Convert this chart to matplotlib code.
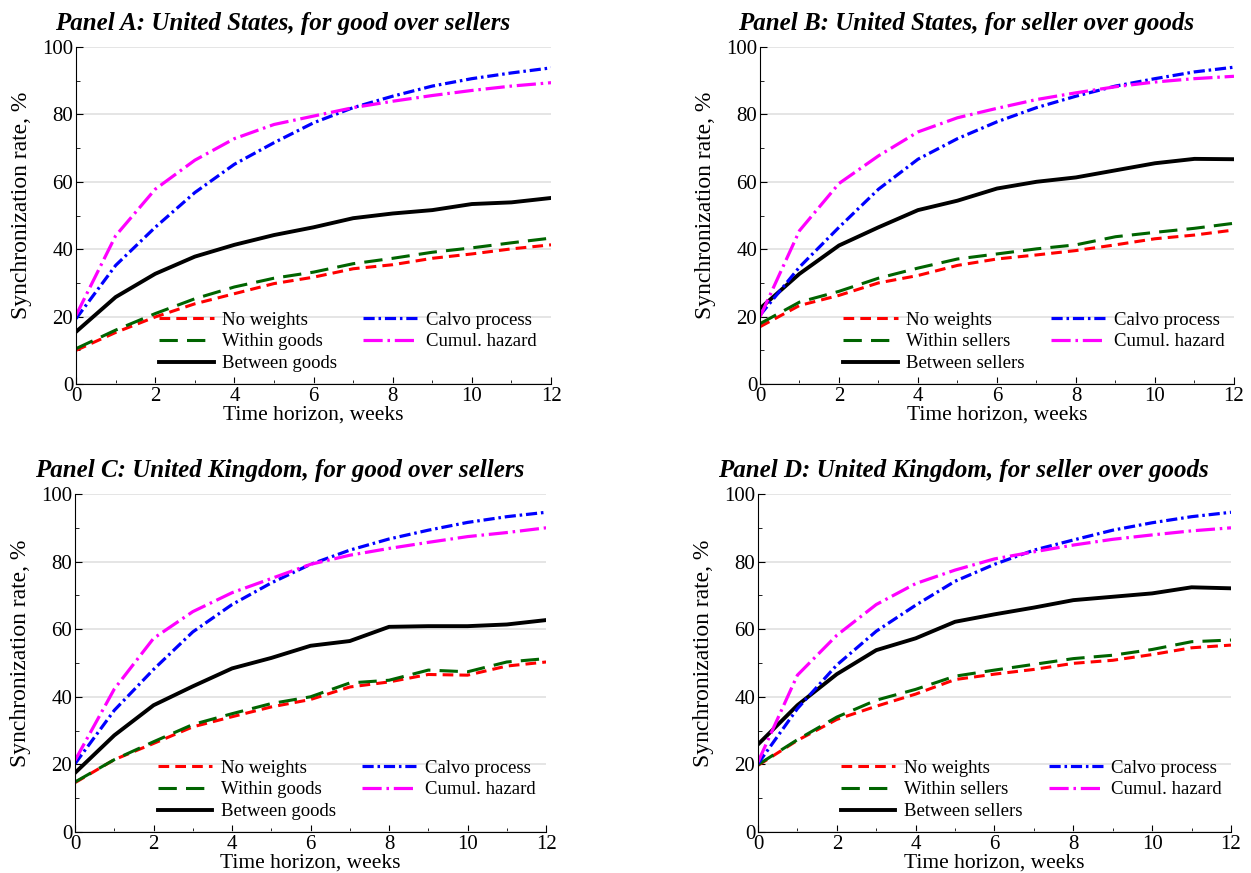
import numpy as np
import matplotlib.pyplot as plt
from matplotlib.ticker import MultipleLocator

plt.rcParams['font.family'] = ['Liberation Serif', 'DejaVu Serif']

weeks = np.arange(13)

# Panel A: US, good over sellers
a_noweight = [10.0, 15.3, 19.9, 23.8, 26.8, 29.8, 31.7, 34.2, 35.4, 37.3, 38.6, 40.1, 41.3]
a_within = [10.5, 16.0, 20.9, 25.3, 28.8, 31.4, 33.2, 35.7, 37.3, 39.1, 40.4, 41.9, 43.3]
a_between = [15.5, 25.8, 32.7, 37.8, 41.3, 44.2, 46.5, 49.2, 50.6, 51.6, 53.4, 53.9, 55.2]
a_calvo = [19.4, 35.2, 46.5, 56.8, 65.2, 71.6, 77.5, 82.0, 85.4, 88.4, 90.6, 92.3, 93.8]
a_hazard = [20.4, 44.0, 57.8, 66.4, 72.8, 77.0, 79.5, 82.0, 83.9, 85.6, 87.1, 88.4, 89.4]

# Panel B: US, seller over goods
b_noweight = [17.0, 23.3, 26.3, 30.0, 32.2, 35.2, 37.1, 38.3, 39.6, 41.3, 43.1, 44.2, 45.7]
b_within = [17.9, 24.3, 27.5, 31.4, 34.4, 37.1, 38.6, 40.1, 41.3, 43.7, 45.0, 46.2, 47.7]
b_between = [22.4, 32.7, 41.1, 46.5, 51.6, 54.4, 58.0, 60.0, 61.3, 63.4, 65.5, 66.8, 66.7]
b_calvo = [20.4, 34.7, 46.5, 57.8, 66.7, 72.8, 77.8, 82.0, 85.4, 88.4, 90.6, 92.6, 94.0]
b_hazard = [19.9, 45.5, 59.5, 67.7, 74.8, 79.0, 81.8, 84.4, 86.4, 88.2, 89.6, 90.6, 91.3]

# Panel C: UK, good over sellers
c_noweight = [14.6, 21.4, 26.2, 31.1, 34.1, 37.0, 39.2, 42.9, 44.4, 46.6, 46.4, 49.1, 50.3]
c_within = [14.8, 21.4, 26.7, 31.8, 35.0, 38.0, 40.0, 44.1, 44.9, 47.9, 47.4, 50.3, 51.3]
c_between = [17.5, 28.6, 37.5, 43.1, 48.4, 51.5, 55.1, 56.5, 60.7, 60.9, 60.9, 61.4, 62.7]
c_calvo = [20.2, 36.0, 48.1, 59.2, 67.3, 73.7, 79.2, 83.4, 86.7, 89.3, 91.6, 93.3, 94.6]
c_hazard = [21.2, 42.3, 57.3, 65.2, 70.8, 75.0, 79.2, 81.9, 83.9, 85.7, 87.4, 88.6, 90.0]

# Panel D: UK, seller over goods
d_noweight = [19.7, 27.1, 33.3, 37.2, 40.8, 45.1, 46.7, 48.1, 49.9, 50.8, 52.5, 54.5, 55.3]
d_within = [19.9, 27.3, 34.0, 39.0, 42.2, 46.1, 47.9, 49.6, 51.3, 52.3, 54.0, 56.3, 56.8]
d_between = [25.9, 37.5, 46.7, 53.8, 57.3, 62.2, 64.4, 66.4, 68.6, 69.6, 70.6, 72.4, 72.1]
d_calvo = [20.2, 36.5, 49.4, 59.4, 67.1, 74.2, 79.2, 83.4, 86.4, 89.3, 91.5, 93.3, 94.6]
d_hazard = [20.7, 46.4, 58.2, 67.3, 73.5, 77.5, 80.8, 82.9, 84.9, 86.6, 87.9, 89.1, 90.0]

panels = [
    ("Panel A: United States, for good over sellers", "goods",
     a_noweight, a_within, a_between, a_calvo, a_hazard),
    ("Panel B: United States, for seller over goods", "sellers",
     b_noweight, b_within, b_between, b_calvo, b_hazard),
    ("Panel C: United Kingdom, for good over sellers", "goods",
     c_noweight, c_within, c_between, c_calvo, c_hazard),
    ("Panel D: United Kingdom, for seller over goods", "sellers",
     d_noweight, d_within, d_between, d_calvo, d_hazard),
]

positions = [
    [0.0608, 0.5601, 0.3797, 0.3861],
    [0.6075, 0.5601, 0.3789, 0.3861],
    [0.0600, 0.0470, 0.3765, 0.3871],
    [0.6059, 0.0470, 0.3781, 0.3871],
]

fig = plt.figure(figsize=(12.51, 8.73), dpi=100)

for pos, (title, unit, nw, wi, bw, cv, hz) in zip(positions, panels):
    ax = fig.add_axes(pos)
    ax.plot(weeks, nw, color='red', lw=2.2, dashes=(3.5, 2), label='No weights')
    ax.plot(weeks, wi, color='darkgreen', lw=2.2, dashes=(6, 3), label=f'Within {unit}')
    ax.plot(weeks, bw, color='black', lw=2.8, label=f'Between {unit}')
    ax.plot(weeks, cv, color='blue', lw=2.3, dashes=(3.5, 1.2, 0.8, 1.2), label='Calvo process')
    ax.plot(weeks, hz, color='magenta', lw=2.3, dashes=(6, 1.5, 0.8, 1.5), label='Cumul. hazard')

    ax.set_xlim(0, 12)
    ax.set_ylim(0, 100)
    ax.xaxis.set_major_locator(MultipleLocator(2))
    ax.xaxis.set_minor_locator(MultipleLocator(1))
    ax.yaxis.set_major_locator(MultipleLocator(20))
    ax.yaxis.set_minor_locator(MultipleLocator(10))
    ax.tick_params(which='both', direction='in', labelsize=15, pad=2)
    ax.tick_params(which='major', length=5)
    ax.tick_params(which='minor', length=3)
    ax.grid(axis='y', which='major', color='#e0e0e0', lw=1.2)
    ax.set_axisbelow(True)
    for s in ['top', 'right']:
        ax.spines[s].set_visible(False)

    ax.set_xlabel('Time horizon, weeks', fontsize=15.5, labelpad=0)
    ax.set_ylabel('Synchronization rate, %', fontsize=17)
    ax.yaxis.set_label_coords(-0.093, 0.53)
    ax.set_title(title, fontsize=18, fontweight='bold', fontstyle='italic',
                 x=0.435, pad=12)
    ax.legend(ncol=2, loc='lower left', bbox_to_anchor=(0.14, -0.015), frameon=False,
              fontsize=13.5, handlelength=2.9, columnspacing=1.4, labelspacing=0.25,
              handletextpad=0.45)

fig.savefig('out.png', dpi=100)
